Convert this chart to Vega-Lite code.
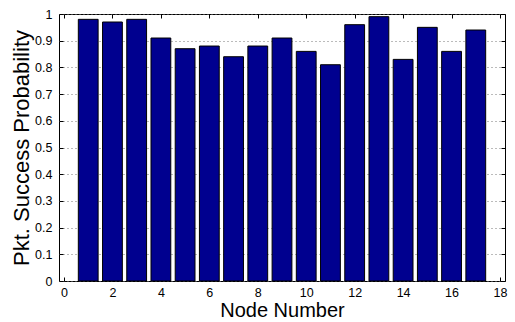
{
  "$schema": "https://vega.github.io/schema/vega-lite/v6.json",
  "width": 446,
  "height": 267,
  "autosize": {"type": "none"},
  "padding": {"left": 59, "top": 14, "right": 10, "bottom": 41},
  "background": "white",
  "config": {
    "view": {"stroke": "black", "strokeWidth": 1},
    "font": "Liberation Sans",
    "axis": {
      "labelFont": "Liberation Sans",
      "titleFont": "Liberation Sans",
      "labelColor": "black",
      "titleColor": "black",
      "titleFontWeight": "normal",
      "labelFontSize": 12.5,
      "titleFontSize": 20,
      "domain": false,
      "tickColor": "black",
      "tickSize": -4,
      "gridColor": "#777777",
      "gridDash": [1, 3],
      "gridOpacity": 1
    }
  },
  "data": {
    "values": [
      {"node": 1, "p": 0.98},
      {"node": 2, "p": 0.97},
      {"node": 3, "p": 0.98},
      {"node": 4, "p": 0.91},
      {"node": 5, "p": 0.87},
      {"node": 6, "p": 0.88},
      {"node": 7, "p": 0.84},
      {"node": 8, "p": 0.88},
      {"node": 9, "p": 0.91},
      {"node": 10, "p": 0.86},
      {"node": 11, "p": 0.81},
      {"node": 12, "p": 0.96},
      {"node": 13, "p": 0.99},
      {"node": 14, "p": 0.83},
      {"node": 15, "p": 0.95},
      {"node": 16, "p": 0.86},
      {"node": 17, "p": 0.94}
    ]
  },
  "layer": [
    {
      "mark": {"type": "bar", "size": 19.8, "color": "#00008F", "stroke": "black", "strokeWidth": 1},
      "encoding": {
        "x": {
          "field": "node", "type": "quantitative",
          "scale": {"domain": [0, 18], "nice": false, "zero": false},
          "axis": {"values": [0, 2, 4, 6, 8, 10, 12, 14, 16, 18], "title": "Node Number", "labelPadding": 9, "titlePadding": 2, "grid": false}
        },
        "y": {
          "field": "p", "type": "quantitative",
          "scale": {"domain": [0, 1], "nice": false},
          "axis": {"values": [0, 0.1, 0.2, 0.3, 0.4, 0.5, 0.6, 0.7, 0.8, 0.9, 1], "format": "~g", "title": "Pkt. Success Probability", "titleFontSize": 22, "labelPadding": 11, "titlePadding": 1, "grid": true}
        }
      }
    },
    {
      "mark": {"type": "point", "opacity": 0},
      "encoding": {
        "x": {
          "field": "node", "type": "quantitative",
          "scale": {"domain": [0, 18], "nice": false, "zero": false},
          "axis": {"orient": "top", "values": [0, 2, 4, 6, 8, 10, 12, 14, 16, 18], "labels": false, "title": null, "grid": false}
        },
        "y": {
          "field": "p", "type": "quantitative",
          "scale": {"domain": [0, 1], "nice": false},
          "axis": {"orient": "right", "values": [0, 0.1, 0.2, 0.3, 0.4, 0.5, 0.6, 0.7, 0.8, 0.9, 1], "labels": false, "title": null, "grid": false}
        }
      }
    }
  ],
  "resolve": {"axis": {"x": "independent", "y": "independent"}}
}
